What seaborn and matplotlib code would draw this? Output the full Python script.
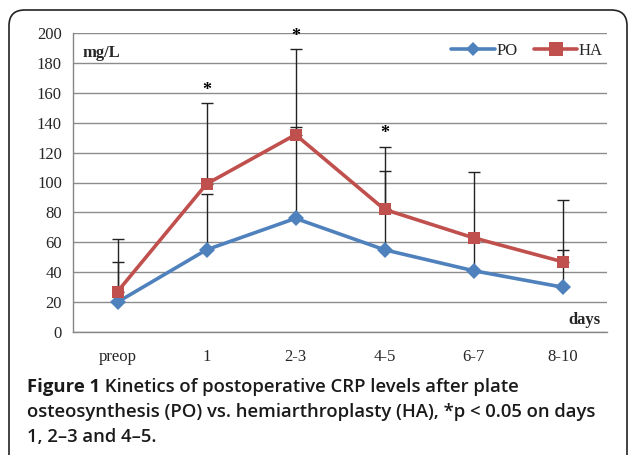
import numpy as np
import pandas as pd
import matplotlib
matplotlib.use("Agg")
import matplotlib.pyplot as plt
import matplotlib.patches as patches
from matplotlib.ticker import FixedLocator
import seaborn as sns

days = ["preop", "1", "2-3", "4-5", "6-7", "8-10"]
po_mean = [20, 55, 76, 55, 41, 30]
ha_mean = [27, 99, 132, 82, 63, 47]
po_err = [27, 37, 61, 53, 22, 25]
ha_err = [35, 54, 57, 42, 44, 41]
signif = [False, True, True, True, False, False]

caption_bold = "Figure 1"
caption_1 = " Kinetics of postoperative CRP levels after plate"
caption_2 = "osteosynthesis (PO) vs. hemiarthroplasty (HA), *p < 0.05 on days"
caption_3 = "1, 2\u20133 and 4\u20135."

blue = "#4F81BD"
red = "#C0504D"

df = pd.DataFrame({
    "day": days * 2,
    "crp": po_mean + ha_mean,
    "group": ["PO"] * len(days) + ["HA"] * len(days),
})

sns.set_style("white")
plt.rcParams["font.family"] = ["Liberation Serif", "DejaVu Serif"]

W, H = 629, 455
fig = plt.figure(figsize=(W / 100, H / 100), dpi=100)
ax = fig.add_axes([73 / W, 1 - 332 / H, (607 - 73) / W, (332 - 33) / H])

pos = np.arange(len(days))
# error bars (upper only), drawn under the lines
ax.errorbar(pos, po_mean, yerr=[np.zeros(len(days)), po_err], fmt="none",
            ecolor="#222222", elinewidth=1, capsize=4, capthick=1, zorder=2)
ax.errorbar(pos, ha_mean, yerr=[np.zeros(len(days)), ha_err], fmt="none",
            ecolor="#222222", elinewidth=1, capsize=4, capthick=1, zorder=2)

sns.lineplot(data=df, x="day", y="crp", hue="group", style="group",
             palette={"PO": blue, "HA": red},
             markers={"PO": "D", "HA": "s"}, dashes=False,
             markersize=8, linewidth=2.6, markeredgewidth=0,
             sort=False, ax=ax, zorder=3)
for ln, ms in zip(ax.get_lines()[-2:], [7, 10]):
    ln.set_markersize(ms)

# asterisks above significant HA bars
for i, s in enumerate(signif):
    if s:
        ax.annotate("*", (pos[i], ha_mean[i] + ha_err[i]), xytext=(0, 3),
                    textcoords="offset points", ha="center", va="bottom",
                    fontsize=13, fontweight="bold", color="black")

ax.set_xlim(-0.5, len(days) - 0.5)
ax.set_ylim(0, 200)
ax.set_yticks(np.arange(0, 201, 20))
ax.set_xticks(pos)
ax.set_xticklabels(days)
ax.xaxis.set_minor_locator(FixedLocator(np.arange(-0.5, len(days), 1)))
ax.tick_params(axis="x", which="major", length=0, pad=12, labelsize=12)
ax.tick_params(axis="x", which="minor", length=5, width=1, color="#868686", direction="out")
ax.tick_params(axis="y", which="major", length=5, width=1, color="#868686",
               direction="out", labelsize=12, pad=3)
ax.grid(axis="y", color="#8c8c8c", linewidth=1)
ax.set_axisbelow(True)
for side in ["top", "right"]:
    ax.spines[side].set_visible(False)
for side in ["left", "bottom"]:
    ax.spines[side].set_color("#868686")
    ax.spines[side].set_linewidth(1)
ax.set_xlabel("")
ax.set_ylabel("")

ax.text(0.018, 0.96, "mg/L", transform=ax.transAxes, fontsize=12,
        fontweight="bold", va="top", ha="left")
ax.text(0.987, 0.015, "days", transform=ax.transAxes, fontsize=12,
        fontweight="bold", va="bottom", ha="right")

handles, labels = ax.get_legend_handles_labels()
leg = ax.legend(handles, labels, ncol=2, frameon=False, loc="upper right",
                bbox_to_anchor=(1.005, 0.99), fontsize=12, handlelength=2.6,
                handletextpad=0.1, columnspacing=1.0, borderaxespad=0)

# rounded frame around the chart
frame = patches.FancyBboxPatch((9 / W, -0.2), (627 - 9) / W, 1.2 - 10 / H,
                               boxstyle="round,pad=0,rounding_size=0.025",
                               mutation_aspect=W / H, transform=fig.transFigure,
                               facecolor="none", edgecolor="#222222", linewidth=1.2,
                               zorder=0)
fig.patches.append(frame)

# caption
cap_font = ["Open Sans", "DejaVu Sans"]
cap_size = 13.3
cap_x = 27 / W
t0 = fig.text(cap_x, 1 - 392 / H, caption_bold, fontsize=cap_size, fontweight="bold",
              family=cap_font, color="#1a1a1a", va="baseline")
fig.canvas.draw()
bb = t0.get_window_extent()
fig.text(bb.x1 / W, 1 - 392 / H, caption_1, fontsize=cap_size, family=cap_font,
         fontweight="semibold", color="#1a1a1a", va="baseline")
fig.text(cap_x, 1 - 417 / H, caption_2, fontsize=cap_size, family=cap_font,
         fontweight="semibold", color="#1a1a1a", va="baseline")
fig.text(cap_x, 1 - 442 / H, caption_3, fontsize=cap_size, family=cap_font,
         fontweight="semibold", color="#1a1a1a", va="baseline")

fig.savefig("out.png", dpi=100)
